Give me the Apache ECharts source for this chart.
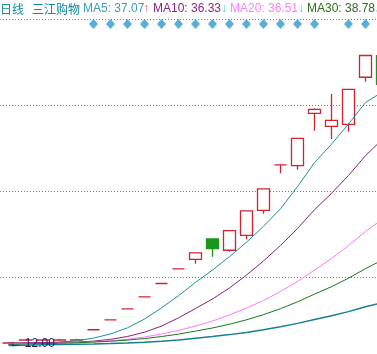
<!DOCTYPE html>
<html>
<head>
<meta charset="utf-8">
<script src="https://cdn.jsdelivr.net/npm/echarts@6/dist/echarts.min.js"></script>
<style>
html, body { margin: 0; padding: 0; background: #fff; }
#main { width: 377px; height: 354px; }
</style>
</head>
<body>
<div id="main"></div>
<script>
// 日线 三江购物
var days = ['1', '2', '3', '4', '5', '6', '7', '8', '9', '10', '11', '12',
  '13', '14', '15', '16', '17', '18', '19', '20', '21', '22', '23'];

var opens  = [12.04, 12.45, 12.46, 12.46, 12.46, 13.89, 15.28, 16.81, 18.49, 20.34, 22.37, 23.72,
  26.55, 24.98, 27.07, 30.56, 36.89, 36.78, 44.09, 42.28, 42.56, 49.12, 52.13];
var closes = [12.04, 12.46, 12.48, 12.47, 12.47, 13.89, 15.28, 16.81, 18.49, 20.34, 22.37, 24.61,
  25.20, 27.72, 30.49, 33.54, 36.89, 40.58, 44.64, 43.11, 47.42, 52.16, 48.14];
var lows   = [12.00, 12.42, 12.42, 12.44, 12.44, 13.89, 15.28, 16.81, 18.49, 20.34, 22.37, 23.11,
  24.08, 24.78, 26.51, 30.08, 35.72, 36.22, 41.66, 40.51, 41.52, 48.50, 47.60];
var highs  = [12.06, 12.50, 12.52, 12.62, 12.62, 13.89, 15.28, 16.81, 18.49, 20.34, 22.37, 24.61,
  26.60, 27.72, 30.49, 33.54, 36.89, 40.58, 44.80, 46.78, 47.42, 52.16, 52.40];

var ma5  = [11.83, 11.95, 12.05, 12.18, 12.36, 12.72, 13.31, 14.16, 15.38, 16.94, 18.64, 20.50,
  22.22, 24.10, 26.10, 28.32, 30.77, 33.86, 37.21, 39.78, 42.60, 45.60, 47.08];
var ma10 = [12.05, 12.08, 12.10, 12.13, 12.18, 12.30, 12.55, 12.95, 13.55, 14.40, 15.55, 16.85,
  18.19, 19.72, 21.52, 23.49, 25.65, 28.02, 30.64, 32.92, 35.42, 38.18, 40.47];
var ma20 = [11.90, 11.93, 11.97, 12.04, 12.11, 12.21, 12.35, 12.56, 12.88, 13.30, 13.79, 14.41,
  15.11, 15.95, 16.92, 17.97, 19.23, 20.62, 22.23, 23.83, 25.65, 27.60, 29.34];
var ma30 = [11.86, 11.90, 11.96, 12.01, 12.07, 12.17, 12.28, 12.45, 12.66, 12.94, 13.28, 13.70,
  14.14, 14.66, 15.28, 16.00, 16.83, 17.78, 18.86, 19.90, 21.08, 22.42, 23.62];
var ma60 = [11.69, 11.73, 11.78, 11.82, 11.86, 11.90, 11.96, 12.04, 12.15, 12.29, 12.47, 12.72,
  12.95, 13.21, 13.52, 13.88, 14.30, 14.78, 15.32, 15.84, 16.42, 17.09, 17.69];

// 信号 (菱形)
var signals = [0, 0, 0, 0, 0, 1, 1, 1, 1, 1, 1, 1, 1, 1, 1, 1, 1, 1, 1, 0, 1, 1, 0];

var maLabels = ['MA5: 37.07', 'MA10: 36.33', 'MA20: 36.51', 'MA30: 38.78'];
var maArrows = ['↑', '↓', '↓', '↓'];

var myChart = echarts.init(document.getElementById('main'));

var kData = [];
for (var i = 0; i < days.length; i++) {
  kData.push([opens[i], closes[i], lows[i], highs[i]]);
}

// 区间最低价
var lowIdx = 0;
for (var j = 1; j < lows.length; j++) {
  if (lows[j] < lows[lowIdx]) lowIdx = j;
}

var signalLevel = 56.55;
var sigData = signals.map(function (s) { return s ? signalLevel : '-'; });

var fontLatin = '12px "Liberation Sans", Arial, sans-serif';
var fontCn = '12px "Noto Sans CJK SC", sans-serif';

function maLine(name, data, color, width) {
  return {
    name: name,
    type: 'line',
    data: data,
    symbol: 'none',
    z: 3,
    silent: true,
    lineStyle: { color: color, width: width }
  };
}

var option = {
  animation: false,
  backgroundColor: '#fff',
  // 最后一根K线只露出左边
  grid: { left: 0, top: 19, width: 391, height: 344, outerBoundsMode: 'none' },
  xAxis: {
    type: 'category',
    data: days,
    boundaryGap: true,
    axisLine: { show: false },
    axisTick: { show: false },
    axisLabel: { show: false },
    splitLine: { show: false }
  },
  yAxis: {
    type: 'value',
    min: 9.25,
    max: 57.25,
    interval: 12,
    axisLine: { show: false },
    axisTick: { show: false },
    axisLabel: { show: false },
    splitLine: {
      show: true,
      lineStyle: { color: '#7a7a7a', width: 1, type: [1, 2] }
    }
  },
  graphic: [
    { type: 'text', x: 0, y: 3, style: { text: '日线', fill: '#138e9a', font: fontCn } },
    { type: 'text', x: 32, y: 3, style: { text: '三江购物', fill: '#0f8a96', font: fontCn } },
    { type: 'text', x: 83, y: 3, style: { text: maLabels[0], fill: '#3a9cc0', font: fontLatin } },
    { type: 'text', x: 143, y: 3, style: { text: maArrows[0], fill: '#ff5a5a', font: fontLatin } },
    { type: 'text', x: 153, y: 3, style: { text: maLabels[1], fill: '#8e2585', font: fontLatin } },
    { type: 'text', x: 221, y: 3, style: { text: maArrows[1], fill: '#3cc8e8', font: fontLatin } },
    { type: 'text', x: 230, y: 3, style: { text: maLabels[2], fill: '#ff80ff', font: fontLatin } },
    { type: 'text', x: 298, y: 3, style: { text: maArrows[2], fill: '#3cc8e8', font: fontLatin } },
    { type: 'text', x: 307, y: 3, style: { text: maLabels[3], fill: '#2a6e1e', font: fontLatin } },
    { type: 'text', x: 374, y: 3, style: { text: maArrows[3], fill: '#3cc8e8', font: fontLatin } }
  ],
  series: [
    {
      type: 'candlestick',
      data: kData,
      barWidth: 12,
      z: 2,
      itemStyle: {
        color: '#ffffff',
        color0: '#1a961a',
        borderColor: '#d0232e',
        borderColor0: '#1a961a',
        borderWidth: 1.3
      },
      markPoint: {
        symbol: 'circle',
        symbolSize: 0,
        silent: true,
        label: {
          show: true,
          position: 'right',
          distance: 1,
          formatter: '← ' + lows[lowIdx].toFixed(2),
          color: '#1c1c5c',
          fontFamily: 'Liberation Sans, Arial, sans-serif',
          fontSize: 12
        },
        data: [{ coord: [lowIdx, lows[lowIdx]] }]
      }
    },
    maLine('MA5', ma5, '#1b8f9e', 1),
    maLine('MA10', ma10, '#8c1e78', 1),
    maLine('MA20', ma20, '#ff78ff', 1),
    maLine('MA30', ma30, '#187818', 1),
    maLine('MA60', ma60, '#14808c', 1.5),
    {
      type: 'scatter',
      data: sigData,
      symbol: 'diamond',
      symbolSize: [9, 10],
      z: 4,
      silent: true,
      itemStyle: { color: '#2d9ad0' }
    }
  ]
};

option && myChart.setOption(option);
</script>
</body>
</html>
